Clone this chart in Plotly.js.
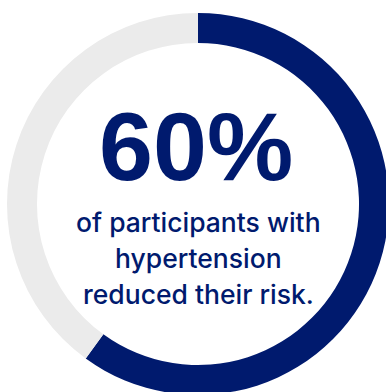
<!DOCTYPE html>
<html>
<head>
<meta charset="utf-8">
<script src="https://cdn.plot.ly/plotly-3.0.1.min.js"></script>
<style>
html,body{margin:0;padding:0;overflow:hidden;background:#fff;width:386px;height:392px;}
#chart{position:absolute;left:0;top:0;width:389px;height:395px;}
</style>
</head>
<body>
<div id="chart"></div>
<script>
const labels = ["Reduced their risk", "Did not"];
const values = [60, 40];
const colors = ["#001A6E", "#EBEBEB"];
const headline = "60%";
const subtitleLines = ["of participants with", "hypertension", "reduced their risk."];

const L = 7, T = 13, D = 382;
function px(x){ return (x - L) / D; }
function py(y){ return 1 - (y - T) / D; }

const data = [{
  type: "pie",
  labels: labels,
  values: values,
  hole: 0.843,
  sort: false,
  direction: "clockwise",
  rotation: 0,
  marker: {colors: colors, line: {width: 0}},
  textinfo: "none",
  hoverinfo: "skip",
  showlegend: false
}];

const annotations = [{
  xref: "paper", yref: "paper",
  x: px(196), y: py(146),
  xanchor: "center", yanchor: "middle",
  text: "<b>" + headline + "</b>",
  showarrow: false,
  font: {family: "Liberation Sans, Arial, sans-serif", size: 97, color: "#001A6E"}
}];
const lineY = [222, 258, 294];
subtitleLines.forEach((t, i) => {
  annotations.push({
    xref: "paper", yref: "paper",
    x: px(198), y: py(lineY[i]),
    xanchor: "center", yanchor: "middle",
    text: t,
    showarrow: false,
    font: {family: "Inter, Roboto, sans-serif", size: 26.5, weight: 500, color: "#001A6E"}
  });
});

const layout = {
  width: 389, height: 395,
  margin: {l: L, r: 0, t: T, b: 0, pad: 0},
  paper_bgcolor: "#ffffff",
  plot_bgcolor: "#ffffff",
  annotations: annotations,
  showlegend: false
};
Plotly.newPlot("chart", data, layout, {staticPlot: true, displayModeBar: false});
</script>
</body>
</html>
